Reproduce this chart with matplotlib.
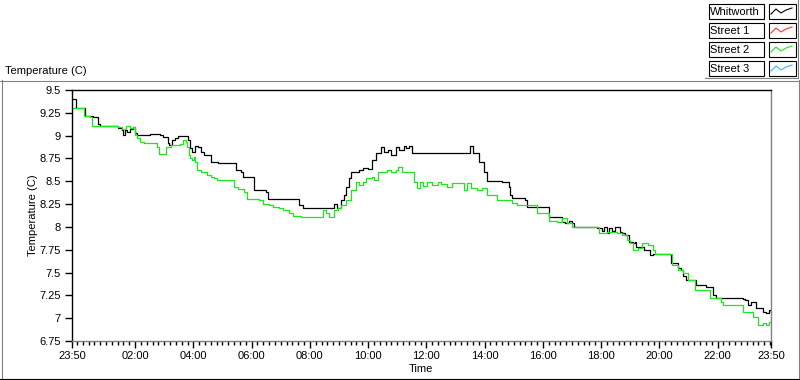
import matplotlib
matplotlib.use("Agg")
import matplotlib.pyplot as plt
from matplotlib.lines import Line2D
from matplotlib.patches import Rectangle

# ---------------- data (minutes since 23:50, temperature in C) ----------------
whit_t = [0, 8, 23, 27, 43, 54, 58, 93, 95, 103, 106, 110, 114, 120, 126, 130, 134, 161, 182, 188,
          197, 199, 207, 213, 219, 230, 238, 244, 248, 254, 259, 265, 271, 279, 286, 300, 327, 337,
          348, 352, 372, 374, 399, 403, 451, 468, 476, 534, 540, 546, 554, 561, 565, 571, 575, 586,
          592, 600, 610, 617, 627, 637, 643, 652, 658, 668, 674, 683, 689, 695, 701, 817, 819, 826,
          838, 844, 848, 854, 886, 900, 902, 906, 933, 937, 979, 983, 1006, 1010, 1016, 1024, 1030,
          1034, 1078, 1082, 1092, 1096, 1103, 1107, 1113, 1119, 1128, 1134, 1140, 1148, 1155, 1159,
          1161, 1175, 1179, 1190, 1196, 1231, 1235, 1244, 1248, 1254, 1258, 1264, 1285, 1306, 1320,
          1326, 1382, 1386, 1392, 1399, 1409, 1423, 1430, 1436, 1440]
whit_v = [9.40, 9.30, 9.30, 9.21, 9.20, 9.13, 9.11, 9.11, 9.08, 9.06, 9.01, 9.06, 9.04, 9.07, 9.10,
          9.03, 9.01, 9.02, 9.01, 8.99, 8.92, 8.90, 8.95, 8.97, 9.00, 9.00, 8.95, 8.86, 8.82, 8.89,
          8.88, 8.82, 8.79, 8.79, 8.71, 8.70, 8.70, 8.62, 8.60, 8.55, 8.55, 8.40, 8.38, 8.31, 8.31,
          8.24, 8.21, 8.21, 8.25, 8.21, 8.29, 8.35, 8.44, 8.54, 8.60, 8.60, 8.62, 8.64, 8.63, 8.73,
          8.81, 8.875, 8.82, 8.84, 8.79, 8.875, 8.84, 8.89, 8.86, 8.89, 8.81, 8.81, 8.89, 8.81, 8.71,
          8.71, 8.60, 8.50, 8.49, 8.44, 8.35, 8.32, 8.29, 8.22, 8.22, 8.11, 8.11, 8.05, 8.04, 8.07,
          8.04, 8.00, 8.00, 7.99, 7.96, 8.00, 7.93, 7.99, 7.96, 8.00, 7.94, 7.93, 7.91, 7.83, 7.82,
          7.83, 7.78, 7.78, 7.75, 7.69, 7.70, 7.70, 7.61, 7.61, 7.55, 7.53, 7.46, 7.42, 7.36, 7.34,
          7.25, 7.22, 7.21, 7.20, 7.14, 7.18, 7.11, 7.07, 7.06, 7.09, 7.07]

st2_t = [0, 20, 25, 37, 41, 79, 95, 103, 112, 120, 126, 130, 134, 141, 148, 168, 175, 179, 189, 194,
         203, 223, 229, 234, 237, 241, 244, 248, 251, 254, 258, 265, 279, 286, 292, 299, 327, 334,
         341, 351, 354, 361, 375, 385, 393, 406, 414, 426, 434, 447, 455, 472, 513, 517, 523, 530,
         540, 548, 554, 565, 575, 586, 592, 600, 606, 617, 623, 631, 648, 658, 668, 672, 679, 699,
         704, 710, 716, 724, 732, 741, 753, 761, 772, 782, 803, 807, 813, 823, 834, 844, 854, 865,
         875, 886, 896, 906, 917, 948, 958, 979, 983, 999, 1010, 1020, 1030, 1082, 1086, 1103, 1123,
         1134, 1144, 1150, 1155, 1165, 1175, 1186, 1196, 1200, 1231, 1237, 1248, 1258, 1268, 1279,
         1283, 1310, 1314, 1330, 1337, 1341, 1372, 1382, 1392, 1403, 1413, 1423, 1430, 1436, 1440]
st2_v = [9.30, 9.30, 9.21, 9.20, 9.11, 9.11, 9.09, 9.07, 9.11, 9.08, 9.09, 9.01, 8.97, 8.93, 8.92,
         8.92, 8.88, 8.80, 8.80, 8.88, 8.90, 8.91, 8.95, 8.93, 8.88, 8.79, 8.75, 8.73, 8.77, 8.71,
         8.62, 8.60, 8.57, 8.55, 8.54, 8.51, 8.51, 8.44, 8.42, 8.42, 8.38, 8.31, 8.31, 8.29, 8.25,
         8.24, 8.22, 8.21, 8.18, 8.15, 8.12, 8.11, 8.11, 8.18, 8.15, 8.11, 8.18, 8.21, 8.24, 8.29,
         8.40, 8.49, 8.46, 8.49, 8.54, 8.55, 8.51, 8.60, 8.62, 8.60, 8.62, 8.66, 8.60, 8.60, 8.49,
         8.43, 8.49, 8.45, 8.49, 8.46, 8.49, 8.47, 8.44, 8.48, 8.48, 8.40, 8.48, 8.43, 8.40, 8.43,
         8.35, 8.35, 8.30, 8.29, 8.29, 8.26, 8.24, 8.24, 8.15, 8.15, 8.07, 8.05, 8.10, 8.04, 8.00,
         8.00, 7.93, 7.94, 7.93, 7.91, 7.86, 7.82, 7.75, 7.77, 7.82, 7.80, 7.75, 7.70, 7.70, 7.58,
         7.53, 7.49, 7.42, 7.42, 7.31, 7.31, 7.22, 7.22, 7.18, 7.14, 7.14, 7.07, 7.07, 7.01, 6.92,
         6.95, 6.93, 6.96, 7.00]

series_names = ["Whitworth", "Street 1", "Street 2", "Street 3"]
series_colors = ["#000000", "#ff3030", "#1ee61e", "#30b8ff"]

y_ticks = [9.5, 9.25, 9.0, 8.75, 8.5, 8.25, 8.0, 7.75, 7.5, 7.25, 7.0, 6.75]
y_tick_labels = ["9.5", "9.25", "9", "8.75", "8.5", "8.25", "8", "7.75", "7.5", "7.25", "7", "6.75"]
x_tick_labels = ["23:50", "02:00", "04:00", "06:00", "08:00", "10:00", "12:00",
                 "14:00", "16:00", "18:00", "20:00", "22:00", "23:50"]

# ---------------- figure ----------------
plt.rcParams["font.family"] = ["Liberation Sans", "DejaVu Sans"]
W, H = 800, 380
fig = plt.figure(figsize=(W / 100, H / 100), dpi=100)
fig.patch.set_facecolor("white")
FS = 8


def fx(x):
    return x / W


def fy(y):
    return 1 - y / H


ax = fig.add_axes([fx(72), fy(341), fx(771) - fx(72), fy(90) - fy(341)])
ax.set_facecolor("white")

ax.plot(whit_t, whit_v, color=series_colors[0], lw=0.9, drawstyle="steps-post")
ax.plot(st2_t, st2_v, color=series_colors[2], lw=0.9, drawstyle="steps-post")

ax.set_xlim(0, 1440)
ax.set_ylim(6.75, 9.5)


def to_min(lbl, last):
    h, m = map(int, lbl.split(":"))
    v = (h * 60 + m - (23 * 60 + 50)) % 1440
    return 1440 if (last and v == 0) else v


x_pos = [to_min(l, i == len(x_tick_labels) - 1) for i, l in enumerate(x_tick_labels)]
ax.set_xticks(x_pos)
ax.set_xticklabels(x_tick_labels, fontsize=FS)
ax.set_xticks([10 + 12 * k for k in range(120) if 10 + 12 * k <= 1440], minor=True)
ax.set_yticks(y_ticks)
ax.set_yticklabels(y_tick_labels, fontsize=FS)

ax.tick_params(axis="x", which="major", direction="out", length=5, width=1, pad=2, color="black")
ax.tick_params(axis="x", which="minor", direction="out", length=3, width=1, color="black")
ax.tick_params(axis="y", which="major", direction="out", length=5, width=1, pad=3, color="black")

for s in ["left", "top"]:
    ax.spines[s].set_color("black")
    ax.spines[s].set_linewidth(1)
for s in ["right", "bottom"]:
    ax.spines[s].set_color("#808080")
    ax.spines[s].set_linewidth(1)

fig.text(fx(33), fy(215), "Temperature (C)", rotation=90, ha="center", va="center", fontsize=FS)
fig.text(fx(421), fy(369), "Time", ha="center", va="center", fontsize=FS)
fig.text(fx(5), fy(71), "Temperature (C)", ha="left", va="center", fontsize=FS)

# outer panel frame
fig.add_artist(Line2D([fx(0), fx(800)], [fy(80.5), fy(80.5)], color="#808080", lw=0.8))
fig.add_artist(Line2D([fx(1.5), fx(1.5)], [fy(80), fy(378)], color="#808080", lw=0.8))
fig.add_artist(Line2D([fx(0), fx(800)], [fy(378.5), fy(378.5)], color="black", lw=0.8))
fig.add_artist(Line2D([fx(798.5), fx(798.5)], [fy(80), fy(378)], color="#808080", lw=0.8))

# legend
fig.add_artist(Line2D([fx(797.5), fx(797.5)], [fy(0), fy(78)], color="#808080", lw=0.8))
fig.add_artist(Line2D([fx(705), fx(797.5)], [fy(77.5), fy(77.5)], color="#808080", lw=0.8))
for i, (name, col) in enumerate(zip(series_names, series_colors)):
    top = 4 + 19 * i
    hgt = 14.5
    fig.add_artist(Rectangle((fx(708.5), fy(top + hgt)), fx(763.5) - fx(708.5), fy(top) - fy(top + hgt),
                             fill=False, edgecolor="black", lw=0.8))
    fig.text(fx(710), fy(top + hgt / 2 + 0.5), name, ha="left", va="center", fontsize=FS)
    fig.add_artist(Rectangle((fx(768.5), fy(top + hgt)), fx(795.5) - fx(768.5), fy(top) - fy(top + hgt),
                             fill=False, edgecolor="black", lw=0.8))
    zx = [771, 776, 781, 786, 792]
    zy = [top + 10, top + 5, top + 9, top + 6, top + 4]
    fig.add_artist(Line2D([fx(v) for v in zx], [fy(v) for v in zy], color=col, lw=0.8))

fig.savefig("out.png", dpi=100, facecolor="white")
